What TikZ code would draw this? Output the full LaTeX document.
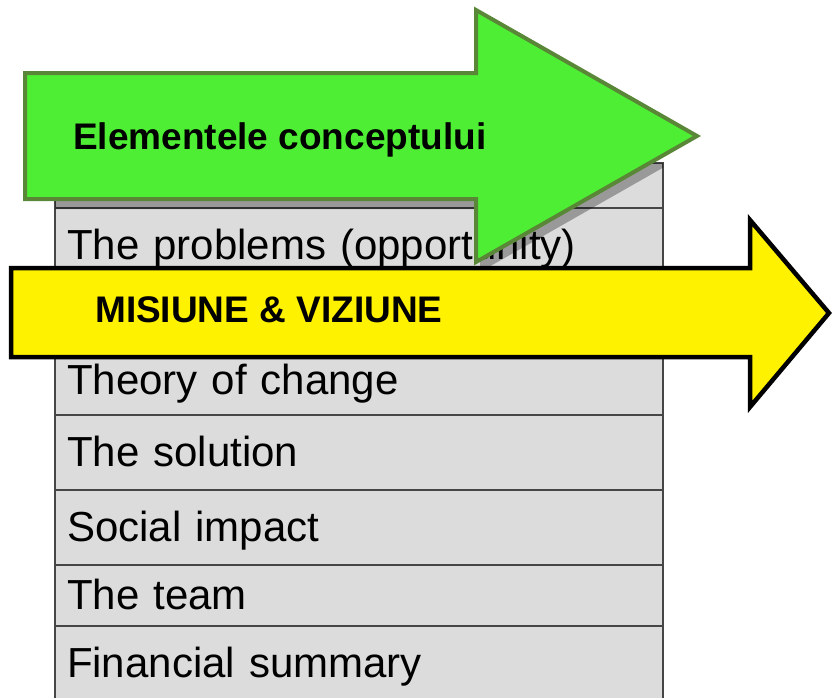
\documentclass[tikz,border=0pt]{standalone}
\usepackage{fontspec}
\setmainfont{Liberation Sans}
\usetikzlibrary{positioning}

\definecolor{arrowgreen}{RGB}{77,238,51}
\definecolor{arrowgreenline}{RGB}{90,135,55}
\definecolor{rowgray}{RGB}{220,220,220}
\definecolor{rowline}{RGB}{70,70,70}

\begin{document}
\begin{tikzpicture}[x=1pt, y=-1pt,
    row/.style={draw=rowline, line width=2.5pt, fill=rowgray, outer sep=0pt, minimum width=608pt, text width=584pt, inner xsep=12pt, inner ysep=0pt, align=left, text height=34pt, text depth=6pt, font=\fontsize{42}{48}\selectfont},
    arrowtext/.style={inner sep=0pt, anchor=base west, font=\bfseries\fontsize{37}{40}\selectfont},
    greenarrow/.style={fill=arrowgreen, draw=arrowgreenline, line width=4pt},
    yellowarrow/.style={fill=yellow, draw=black, line width=4.5pt}
  ]
    \useasboundingbox (0,0) rectangle (833,697);
    \clip (0,0) rectangle (833,697);

    % Table rows
    \node[row, minimum height=45pt, anchor=north west] (header) at (55,163) {};
    \node[row, minimum height=74pt, anchor=north] (problems) at (header.south) {The problems (opportunity)};
    \node[row, minimum height=63pt, anchor=north] (covered) at (problems.south) {};
    \node[row, minimum height=70pt, anchor=north] (theory) at (covered.south) {Theory of change};
    \node[row, minimum height=75pt, anchor=north] (solution) at (theory.south) {The solution};
    \node[row, minimum height=75pt, anchor=north] (impact) at (solution.south) {Social impact};
    \node[row, minimum height=61pt, anchor=north] (team) at (impact.south) {The team};
    \node[row, minimum height=74pt, anchor=north] (financial) at (team.south) {Financial summary};

    % Shadow of the green arrow on the table
    \begin{scope}
      \clip (header.north west) rectangle (financial.south east);
      \fill[black, opacity=0.3, shift={(4,10)}] (25,73) -- (476,73) -- (476,10) -- (697,136) -- (476,262) -- (476,199) -- (25,199) -- cycle;
    \end{scope}

    % Green arrow
    \draw[greenarrow] (25,73) -- (476,73) -- (476,10) -- (697,136) -- (476,262) -- (476,199) -- (25,199) -- cycle;
    \node[arrowtext] (concept) at (73,149) {Elementele conceptului};

    % Yellow arrow
    \draw[yellowarrow] (11,268) -- (750,268) -- (750,220) -- (829,313) -- (750,407) -- (750,357) -- (11,357) -- cycle;
    \node[arrowtext] (mission) at (95,322) {MISIUNE \& VIZIUNE};
  \end{tikzpicture}
\end{document}
